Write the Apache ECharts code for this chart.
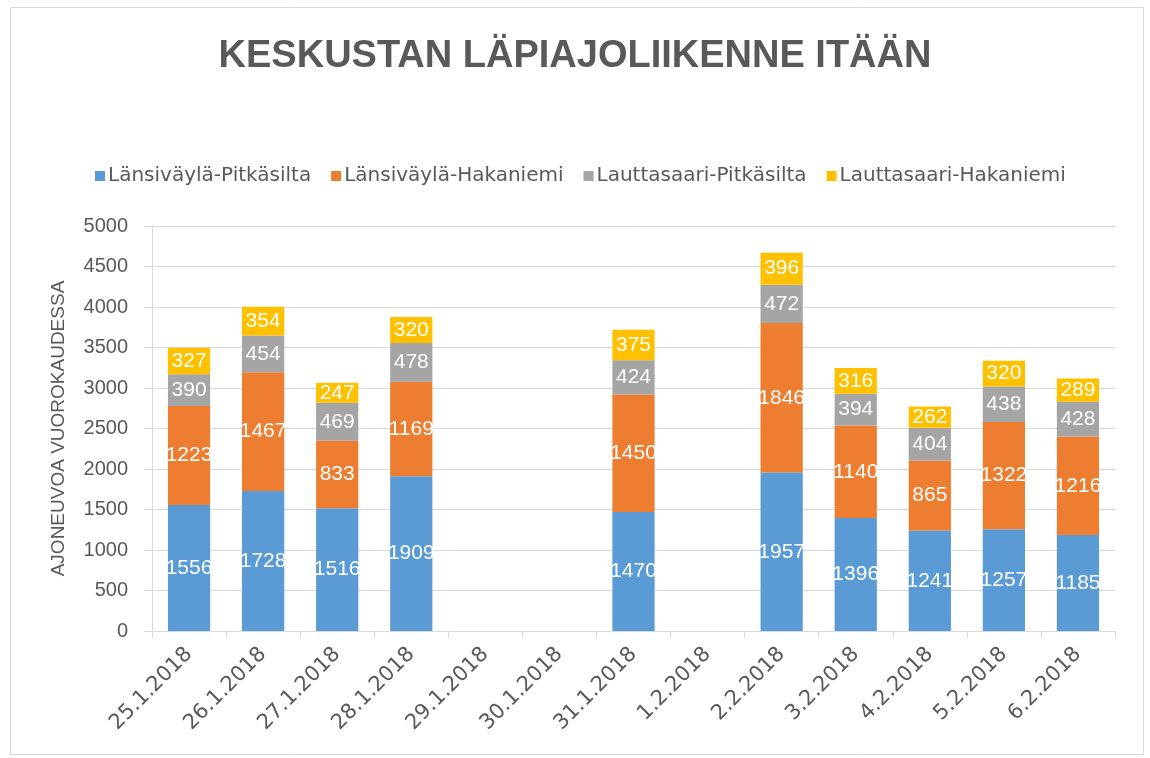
<!DOCTYPE html>
<html><head><meta charset="utf-8">
<script src="https://cdn.jsdelivr.net/npm/echarts@6/dist/echarts.min.js"></script>
<style>html,body{margin:0;padding:0;background:#fff}#c{width:1150px;height:758px}</style>
</head><body><div id="c"></div>
<script>
const categories = ['25.1.2018','26.1.2018','27.1.2018','28.1.2018','29.1.2018','30.1.2018','31.1.2018','1.2.2018','2.2.2018','3.2.2018','4.2.2018','5.2.2018','6.2.2018'];
const seriesNames = ['Länsiväylä-Pitkäsilta','Länsiväylä-Hakaniemi','Lauttasaari-Pitkäsilta','Lauttasaari-Hakaniemi'];
const lansivaylaPitkasilta = [1556,1728,1516,1909,null,null,1470,null,1957,1396,1241,1257,1185];
const lansivaylaHakaniemi  = [1223,1467,833,1169,null,null,1450,null,1846,1140,865,1322,1216];
const lauttasaariPitkasilta = [390,454,469,478,null,null,424,null,472,394,404,438,428];
const lauttasaariHakaniemi  = [327,354,247,320,null,null,375,null,396,316,262,320,289];
const yTicks = [0,500,1000,1500,2000,2500,3000,3500,4000,4500,5000];
const colors = ['#5B9BD5','#ED7D31','#A5A5A5','#FFC000'];
const dataSets = [lansivaylaPitkasilta,lansivaylaHakaniemi,lauttasaariPitkasilta,lauttasaariHakaniemi];
const font = '"Liberation Sans", Arial, sans-serif';
const chart = echarts.init(document.getElementById('c'), null, {renderer:'canvas'});
chart.setOption({
  animation:false,
  graphic:[{type:'rect',shape:{x:10.5,y:7.5,width:1133,height:747},style:{fill:null,stroke:'#d9d9d9',lineWidth:1},silent:true,z:-1}],
  title:{text:'KESKUSTAN LÄPIAJOLIIKENNE ITÄÄN',left:'center',top:33,
    textStyle:{fontFamily:font,fontSize:38,fontWeight:'bold',color:'#595959'}},
  legend:{top:161,left:90,itemWidth:10,itemHeight:10,itemGap:20,icon:'rect',
    textStyle:{fontFamily:'"DejaVu Sans", sans-serif',fontSize:20,color:'#595959',padding:[0,0,0,-2]},data:seriesNames},
  grid:{left:152,right:35,top:226,bottom:127,containLabel:false},
  xAxis:{type:'category',data:categories,
    axisLine:{lineStyle:{color:'#d9d9d9',width:1}},
    axisTick:{show:true,length:7,lineStyle:{color:'#d9d9d9'}},
    axisLabel:{rotate:45,fontFamily:'"DejaVu Sans", sans-serif',fontSize:21,color:'#595959',margin:20,interval:0}},
  yAxis:{type:'value',min:yTicks[0],max:yTicks[yTicks.length-1],interval:500,
    name:'AJONEUVOA VUOROKAUDESSA',nameLocation:'middle',nameGap:84,
    nameTextStyle:{fontFamily:font,fontSize:19,color:'#595959'},
    axisLine:{show:true,lineStyle:{color:'#d9d9d9'}},
    axisTick:{show:true,length:8,lineStyle:{color:'#d9d9d9'}},
    splitLine:{lineStyle:{color:'#d9d9d9',width:1}},
    axisLabel:{fontFamily:font,fontSize:20,color:'#595959',margin:24,formatter:v=>String(v)}},
  series:dataSets.map((d,i)=>({
    name:seriesNames[i],type:'bar',stack:'total',data:d,barWidth:'57%',
    itemStyle:{color:colors[i]},
    label:{show:true,position:'inside',color:'#fff',fontFamily:font,fontSize:21,
      formatter:p=>p.value==null?'':String(p.value)}
  }))
});
</script></body></html>
